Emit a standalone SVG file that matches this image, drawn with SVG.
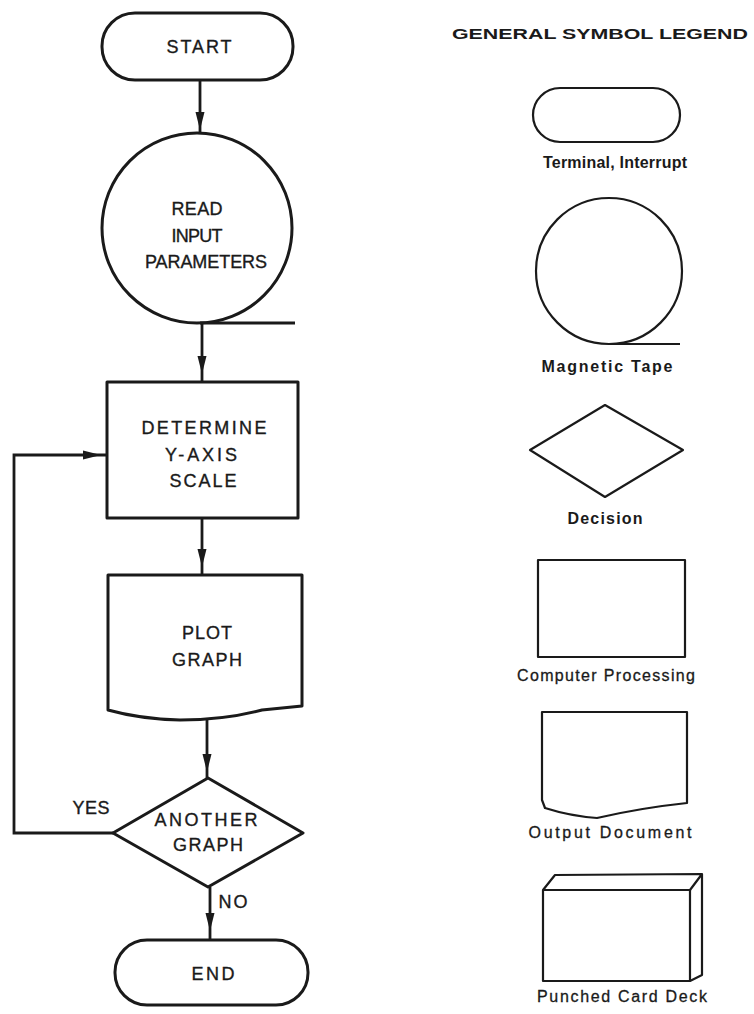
<svg xmlns="http://www.w3.org/2000/svg" width="754" height="1014" viewBox="0 0 754 1014">
<style>
.s{fill:none;stroke:#1a1a1a;stroke-width:3;stroke-linejoin:round}
.l{fill:none;stroke:#1a1a1a;stroke-width:2.2;stroke-linejoin:round}
.c{fill:none;stroke:#1a1a1a;stroke-width:2.8}
.ah{fill:#1a1a1a}
.t{font-family:"Liberation Sans",Arial,sans-serif;font-size:18px;fill:#1a1a1a;stroke:#1a1a1a;stroke-width:0.35;text-anchor:middle}
.g{font-family:"Liberation Sans",Arial,sans-serif;font-size:16px;fill:#1a1a1a;stroke:#1a1a1a;stroke-width:0.3;text-anchor:middle}
.b{font-weight:bold;stroke-width:0}
</style>
<rect width="754" height="1014" fill="#ffffff"/>
<g id="connectors">
<line class="c" x1="200" y1="80" x2="200" y2="133"/>
<polygon class="ah" points="195.5,112 204.5,112 200,130"/>
<line class="c" x1="202" y1="324" x2="202" y2="382"/>
<polygon class="ah" points="197.5,356 206.5,356 202,374"/>
<line class="c" x1="202" y1="518" x2="202" y2="575"/>
<polygon class="ah" points="197.5,549 206.5,549 202,567"/>
<line class="c" x1="207" y1="719" x2="207" y2="778"/>
<polygon class="ah" points="202.5,754 211.5,754 207,772"/>
<line class="c" x1="210" y1="887" x2="210" y2="940"/>
<polygon class="ah" points="205.5,913 214.5,913 210,931"/>
<polyline class="c" points="113,833 14,833 14,455 107,455"/>
<polygon class="ah" points="83,450.5 83,459.5 101,455"/>
<text class="t" x="91" y="814" textLength="37" lengthAdjust="spacing">YES</text>
<text class="t" x="233" y="908" textLength="29" lengthAdjust="spacing">NO</text>
</g>
<g id="start">
<rect class="s" x="102" y="13" width="191" height="67" rx="33"/>
<text class="t" x="199" y="53" textLength="65" lengthAdjust="spacing">START</text>
</g>
<g id="read-input">
<circle class="s" cx="197" cy="228" r="95"/>
<line class="s" x1="200" y1="323" x2="295" y2="323"/>
<text class="t" x="197" y="215" textLength="51" lengthAdjust="spacing">READ</text>
<text class="t" x="197" y="242" textLength="51" lengthAdjust="spacing">INPUT</text>
<text class="t" x="206" y="268" textLength="122" lengthAdjust="spacing">PARAMETERS</text>
</g>
<g id="determine">
<rect class="s" x="107" y="382" width="191" height="136"/>
<text class="t" x="204" y="434" textLength="125" lengthAdjust="spacing">DETERMINE</text>
<text class="t" x="201" y="461" textLength="72" lengthAdjust="spacing">Y-AXIS</text>
<text class="t" x="203" y="487" textLength="67" lengthAdjust="spacing">SCALE</text>
</g>
<g id="plot">
<path class="s" d="M108,575 H302 V706 L262,710 Q225,720 180,720 Q140,719 108,710 Z"/>
<text class="t" x="207" y="639" textLength="50" lengthAdjust="spacing">PLOT</text>
<text class="t" x="207" y="666" textLength="70" lengthAdjust="spacing">GRAPH</text>
</g>
<g id="another">
<polygon class="s" points="208,778 303,833 208,887 113,833"/>
<text class="t" x="206" y="826" textLength="103" lengthAdjust="spacing">ANOTHER</text>
<text class="t" x="208" y="851" textLength="70" lengthAdjust="spacing">GRAPH</text>
</g>
<g id="end">
<rect class="s" x="115" y="940" width="193" height="65" rx="32"/>
<text class="t" x="213" y="980" textLength="43" lengthAdjust="spacing">END</text>
</g>
<g id="legend">
<text class="g b" x="600" y="39" style="font-size:14.5px" textLength="296" lengthAdjust="spacingAndGlyphs">GENERAL SYMBOL LEGEND</text>
<g id="legend-terminal">
<rect class="l" x="533" y="88" width="147" height="54" rx="27"/>
<text class="g b" x="615" y="168" textLength="144" lengthAdjust="spacing">Terminal, Interrupt</text>
</g>
<g id="legend-tape">
<circle class="l" cx="609" cy="271" r="73"/>
<line class="l" x1="610" y1="344" x2="680" y2="344"/>
<text class="g b" x="607" y="372" textLength="131" lengthAdjust="spacing">Magnetic Tape</text>
</g>
<g id="legend-decision">
<polygon class="l" points="605,405 683,450 605,497 530,450"/>
<text class="g b" x="605" y="524" textLength="75" lengthAdjust="spacing">Decision</text>
</g>
<g id="legend-processing">
<rect class="l" x="538" y="560" width="147" height="97"/>
<text class="g" x="606" y="681" textLength="178" lengthAdjust="spacing">Computer Processing</text>
</g>
<g id="legend-document">
<path class="l" d="M542,712 H687 V803 Q640,808 597,818 Q570,816 545,808 L542,800 Z"/>
<text class="g" x="610" y="838" textLength="163" lengthAdjust="spacing">Output Document</text>
</g>
<g id="legend-cards">
<rect class="l" x="543" y="890" width="147" height="91"/>
<polyline class="l" points="543,890 555,875 702,874 690,890"/>
<polyline class="l" points="702,874 702,975 690,981"/>
<text class="g" x="622" y="1002" textLength="170" lengthAdjust="spacing">Punched Card Deck</text>
</g>
</g>
</svg>
